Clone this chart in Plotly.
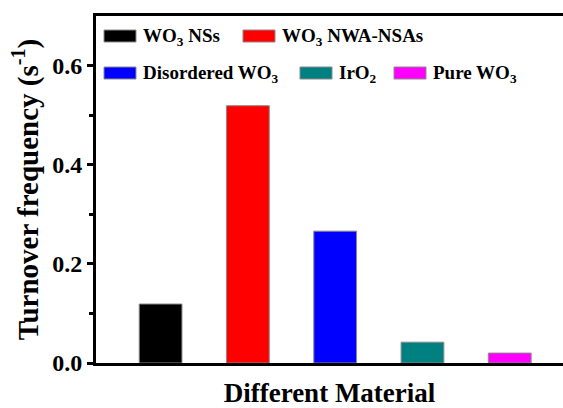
import plotly.graph_objects as go

materials = ["WO3 NSs", "WO3 NWA-NSAs", "Disordered WO3", "IrO2", "Pure WO3"]
legend_labels = ["WO<sub>3</sub> NSs", "WO<sub>3</sub> NWA-NSAs", "Disordered WO<sub>3</sub>",
                 "IrO<sub>2</sub>", "Pure WO<sub>3</sub>"]
tof_values = [0.119, 0.519, 0.266, 0.042, 0.020]
bar_colors = ["#000000", "#ff0000", "#0000ff", "#008080", "#ff00ff"]
y_ticks = [0.0, 0.2, 0.4, 0.6]

W, H = 563, 408
L, R, T, B = 96, 0, 16, 45
pw, ph = W - L - R, H - T - B

font_family = "Liberation Serif"

fig = go.Figure()
fig.add_trace(go.Bar(
    x=list(range(len(materials))), y=tof_values,
    marker=dict(color=bar_colors, line=dict(color="#8a8a8a", width=1)),
    width=0.49, showlegend=False, hoverinfo="skip"))

def px2paper(x, y):
    return (x - L) / pw, (H - B - y) / ph

# manual legend: (swatch left px, row center px)
legend_pos = [(104, 36), (243, 36), (104, 73), (300, 73), (394, 73)]
shapes = []
annotations = []
for (sx, sy), lab, col in zip(legend_pos, legend_labels, bar_colors):
    x0, y0 = px2paper(sx, sy + 6)
    x1, y1 = px2paper(sx + 32, sy - 6)
    shapes.append(dict(type="rect", xref="paper", yref="paper", x0=x0, x1=x1, y0=y0, y1=y1,
                       fillcolor=col, line=dict(color="#8a8a8a", width=1)))
    tx, ty = px2paper(sx + 37, sy + 1)
    annotations.append(dict(xref="paper", yref="paper", x=tx, y=ty, xanchor="left", yanchor="middle",
                            text="<b>" + lab + "</b>", showarrow=False,
                            font=dict(family=font_family, size=19, color="black")))

fig.update_layout(
    width=W, height=H,
    margin=dict(l=L, r=R, t=T, b=B, pad=0),
    paper_bgcolor="white", plot_bgcolor="white",
    font=dict(family=font_family, color="black"),
    shapes=shapes, annotations=annotations,
    xaxis=dict(range=[-0.74, 4.61], showticklabels=False, ticks="", showgrid=False, zeroline=False,
               automargin=False,
               showline=True, linecolor="black", linewidth=3, mirror=True,
               title=dict(text="<b>Different Material</b>", font=dict(size=27, family=font_family), standoff=24)),
    yaxis=dict(range=[0, 0.7], tickvals=y_ticks, ticktext=[f"<b>{v:.1f}</b>" for v in y_ticks],
               automargin=False,
               ticks="outside", ticklen=6, tickwidth=3, tickcolor="black",
               minor=dict(tickvals=[0.1, 0.3, 0.5], ticks="outside", ticklen=4, tickwidth=3, tickcolor="black"),
               tickfont=dict(size=24, family=font_family),
               showgrid=False, zeroline=False,
               showline=True, linecolor="black", linewidth=3, mirror=False,
               title=dict(text="<b>Turnover frequency (s<sup>-1</sup>)</b>", font=dict(size=29, family=font_family), standoff=6)),
)

fig.write_html("out.html", config={"displayModeBar": False},
               post_script="document.body.style.margin='0';document.body.style.overflow='hidden';")
